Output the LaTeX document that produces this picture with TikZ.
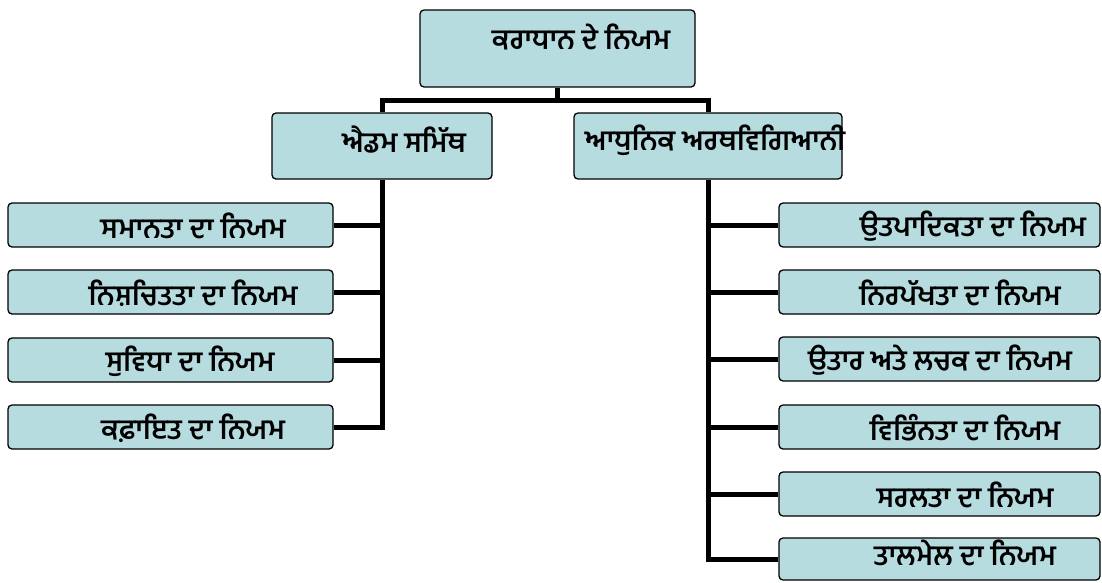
\documentclass[tikz,border=0pt]{standalone}
\usepackage{fontspec}
\newfontfamily\pa[Script=Gurmukhi]{Hind Jalandhar}
\definecolor{boxblue}{RGB}{182,220,224}
\begin{document}
\begin{tikzpicture}[x=1pt,y=-1pt,
  box/.style={draw=black, line width=1.3pt, fill=boxblue, rounded corners=4pt, inner sep=0pt},
  lbl/.style={inner sep=0pt, font=\pa\bfseries\fontsize{28}{30}\selectfont},
  conn/.style={line width=5pt, black}]
\useasboundingbox[fill=white] (0,0) rectangle (1102,582);
% top
\node[box, minimum width=275pt, minimum height=77pt] (top) at (557.5,48.5) {};
\node[lbl] (ttop) at (581,37) {ਕਰਾਧਾਨ ਦੇ ਨਿਯਮ};
% middle
\node[box, minimum width=220pt, minimum height=66pt] (adam) at (382,146) {};
\node[lbl] (tadam) at (404,140) {ਐਡਮ ਸਮਿੱਥ};
\node[box, minimum width=268pt, minimum height=66pt] (mod) at (708,146) {};
\node[lbl] (tmod) at (715,140) {ਆਧੁਨਿਕ ਅਰਥਵਿਗਿਆਨੀ};
% left boxes
\foreach \n/\y in {l1/225, l2/292, l3/360, l4/427}
  \node[box, minimum width=325pt, minimum height=44pt] (\n) at (170.5,\y) {};
\node[lbl] (tl1) at (193,226) {ਸਮਾਨਤਾ ਦਾ ਨਿਯਮ};
\node[lbl] (tl2) at (193,293) {ਨਿਸ਼ਚਿਤਤਾ ਦਾ ਨਿਯਮ};
\node[lbl] (tl3) at (190,361) {ਸੁਵਿਧਾ ਦਾ ਨਿਯਮ};
\node[lbl] (tl4) at (193,428) {ਕਫ਼ਾਇਤ ਦਾ ਨਿਯਮ};
% right boxes
\foreach \n/\y in {r1/225, r2/292, r3/359, r4/427, r5/494}
  \node[box, minimum width=321pt, minimum height=44pt] (\n) at (939.5,\y) {};
\node[box, minimum width=321pt, minimum height=42pt] (r6) at (939.5,559) {};
\node[lbl] (tr1) at (973,226) {ਉਤਪਾਦਿਕਤਾ ਦਾ ਨਿਯਮ};
\node[lbl] (tr2) at (960,293) {ਨਿਰਪੱਖਤਾ ਦਾ ਨਿਯਮ};
\node[lbl] (tr3) at (940,360) {ਉਤਾਰ ਅਤੇ ਲਚਕ ਦਾ ਨਿਯਮ};
\node[lbl] (tr4) at (965,428) {ਵਿਭਿੰਨਤਾ ਦਾ ਨਿਯਮ};
\node[lbl] (tr5) at (965,495) {ਸਰਲਤਾ ਦਾ ਨਿਯਮ};
\node[lbl] (tr6) at (965,553) {ਤਾਲਮੇਲ ਦਾ ਨਿਯਮ};
% connectors
\coordinate (jT) at (top.south |- 0,100);
\coordinate (jL) at (adam.north |- 0,100);
\coordinate (jR) at (mod.north |- 0,100);
\draw[conn] (top.south) -- (jT);
\draw[conn, line cap=rect] (jL) -- (jR);
\draw[conn] (jL) -- (adam.north);
\draw[conn] (jR) -- (mod.north);
\draw[conn] (adam.south) |- (l4.east);
\foreach \n in {l1,l2,l3}
  \draw[conn] (adam.south |- \n.east) -- (\n.east);
\draw[conn] (mod.south) |- (r6.west);
\foreach \n in {r1,r2,r3,r4,r5}
  \draw[conn] (mod.south |- \n.west) -- (\n.west);
\end{tikzpicture}
\end{document}
